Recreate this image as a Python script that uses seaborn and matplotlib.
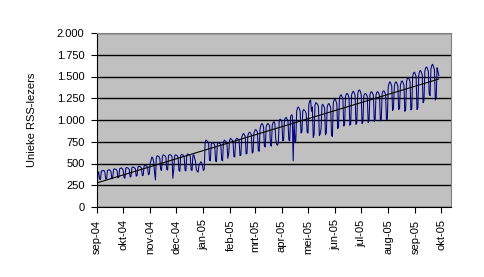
import numpy as np
import pandas as pd
import matplotlib
matplotlib.use("Agg")
import matplotlib.pyplot as plt
import matplotlib.dates as mdates
import seaborn as sns

# ---- data (daily unique RSS readers, starting Wed 1 Sep 2004) ----
start_date = "2004-09-01"
daily_users = [
    170, 385, 405, 320, 315,                      # 1 Sep
    410, 420, 415, 420, 400, 320, 325,            # 6 Sep
    420, 425, 430, 420, 410, 325, 335,            # 13 Sep
    430, 440, 435, 430, 420, 335, 340,            # 20 Sep
    440, 445, 450, 440, 425, 340, 330,            # 27 Sep
    445, 455, 450, 445, 430, 345, 350,            # 4 Oct
    450, 460, 455, 450, 440, 355, 360,            # 11 Oct
    460, 470, 465, 460, 445, 360, 365,            # 18 Oct
    470, 480, 475, 470, 455, 370, 380,            # 25 Oct
    500, 540, 575, 560, 520, 400, 310,            # 1 Nov
    560, 590, 585, 580, 560, 430, 420,            # 8 Nov
    580, 600, 595, 590, 570, 430, 425,            # 15 Nov
    590, 600, 600, 595, 580, 330, 430,            # 22 Nov
    585, 600, 595, 590, 570, 420, 410,            # 29 Nov
    590, 605, 600, 595, 575, 420, 415,            # 6 Dec
    595, 610, 605, 600, 580, 425, 420,            # 13 Dec
    590, 600, 560, 520, 430, 410, 400,            # 20 Dec
    480, 500, 520, 510, 470, 420, 430,            # 27 Dec
    740, 770, 760, 750, 730, 540, 530,            # 3 Jan
    720, 740, 735, 730, 710, 530, 520,            # 10 Jan
    720, 740, 735, 730, 715, 540, 530,            # 17 Jan
    740, 770, 760, 750, 730, 560, 610,            # 24 Jan
    760, 790, 780, 770, 750, 580, 575,            # 31 Jan
    770, 790, 785, 780, 760, 590, 600,            # 7 Feb
    800, 830, 845, 830, 810, 610, 615,            # 14 Feb
    820, 850, 860, 850, 830, 620, 630,            # 21 Feb
    850, 880, 890, 880, 860, 650, 640,            # 28 Feb
    900, 940, 960, 950, 920, 700, 690,            # 7 Mar
    920, 950, 960, 950, 930, 710, 700,            # 14 Mar
    940, 970, 980, 960, 780, 720, 710,            # 21 Mar
    740, 990, 1010, 1000, 980, 760, 770,          # 28 Mar
    1000, 1020, 1030, 1010, 990, 770, 760,        # 4 Apr
    1040, 1060, 1050, 530, 1000, 750, 760,        # 11 Apr
    1100, 1140, 1150, 1130, 1100, 850, 860,       # 18 Apr
    1100, 1120, 1110, 1100, 1070, 860, 850,       # 25 Apr
    1180, 1220, 1230, 1100, 1150, 800, 830,       # 2 May
    1170, 1200, 1190, 1180, 1150, 820, 840,       # 9 May
    900, 1170, 1180, 1160, 1140, 830, 850,        # 16 May
    1150, 1180, 1190, 1170, 1140, 820, 810,       # 23 May
    1200, 1230, 1240, 1220, 1190, 900, 920,       # 30 May
    1250, 1280, 1290, 1270, 1240, 930, 950,       # 6 Jun
    1270, 1300, 1305, 1290, 1260, 940, 960,       # 13 Jun
    1290, 1320, 1330, 1310, 1280, 950, 970,       # 20 Jun
    1300, 1340, 1345, 1330, 1290, 960, 980,       # 27 Jun
    1280, 1300, 1305, 1290, 1270, 970, 990,       # 4 Jul
    1290, 1320, 1325, 1310, 1280, 980, 1000,      # 11 Jul
    1290, 1320, 1325, 1310, 1280, 990, 1000,      # 18 Jul
    1300, 1330, 1335, 1320, 1290, 1000, 1010,     # 25 Jul
    1380, 1420, 1440, 1420, 1390, 1110, 1130,     # 1 Aug
    1390, 1430, 1440, 1420, 1390, 1120, 1135,     # 8 Aug
    1400, 1440, 1450, 1430, 1400, 1100, 1120,     # 15 Aug
    1440, 1480, 1490, 1470, 1440, 1115, 1130,     # 22 Aug
    1500, 1540, 1550, 1530, 1500, 1120, 1140,     # 29 Aug
    1510, 1560, 1570, 1550, 1520, 1200, 1220,     # 5 Sep
    1560, 1600, 1610, 1590, 1560, 1300, 1280,     # 12 Sep
    1590, 1630, 1640, 1610, 1580, 1230, 1250,     # 19 Sep
    1600, 1560, 1510,                             # 26 Sep
]
month_labels = ["sep-04", "okt-04", "nov-04", "dec-04", "jan-05", "feb-05", "mrt-05",
                "apr-05", "mei-05", "jun-05", "jul-05", "aug-05", "sep-05", "okt-05"]
y_ticks = [0, 250, 500, 750, 1000, 1250, 1500, 1750, 2000]
y_label = "Unieke RSS-lezers"

# ---- figure ----
sns.set_theme(style="white")
plt.rcParams["font.family"] = ["Liberation Sans", "DejaVu Sans"]

df = pd.DataFrame({
    "date": pd.date_range(start_date, periods=len(daily_users), freq="D"),
    "users": daily_users,
})
df["num"] = mdates.date2num(df["date"])

fig = plt.figure(figsize=(4.84, 2.77), dpi=100)
ax = fig.add_axes([97 / 484, 1 - 207 / 277, (451 - 97) / 484, (207 - 33) / 277])
ax.set_facecolor("#C0C0C0")

sns.lineplot(data=df, x="num", y="users", color="#000080", lw=0.75, ax=ax)
sns.regplot(data=df, x="num", y="users", scatter=False, ci=None, color="black",
            line_kws={"lw": 0.8}, ax=ax)

ax.set_ylim(0, 2000)
ax.set_yticks(y_ticks)
ax.set_yticklabels([f"{v:,}".replace(",", ".") for v in y_ticks])
ax.yaxis.grid(True, color="black", lw=1)
ax.xaxis.grid(False)
ax.set_axisbelow(True)

month_starts = pd.date_range("2004-09-01", periods=len(month_labels), freq="MS")
ax.set_xlim(mdates.date2num(pd.Timestamp("2004-09-01")),
            mdates.date2num(pd.Timestamp("2005-10-12")))
ax.set_xticks(mdates.date2num(month_starts))
ax.set_xticklabels(month_labels, rotation=90)

ax.tick_params(axis="both", direction="out", length=4, width=0.8, color="black",
               labelsize=8, labelcolor="black")
ax.tick_params(axis="y", pad=5)
ax.tick_params(axis="x", pad=5)
ax.tick_params(left=True, bottom=True)

for s in ["left", "bottom"]:
    ax.spines[s].set_color("black")
    ax.spines[s].set_linewidth(0.8)
for s in ["top", "right"]:
    ax.spines[s].set_color("#808080")
    ax.spines[s].set_linewidth(0.8)

ax.set_xlabel("")
ax.set_ylabel(y_label, fontsize=8, color="black", labelpad=14)

fig.savefig("out.png", dpi=100, facecolor="white")
